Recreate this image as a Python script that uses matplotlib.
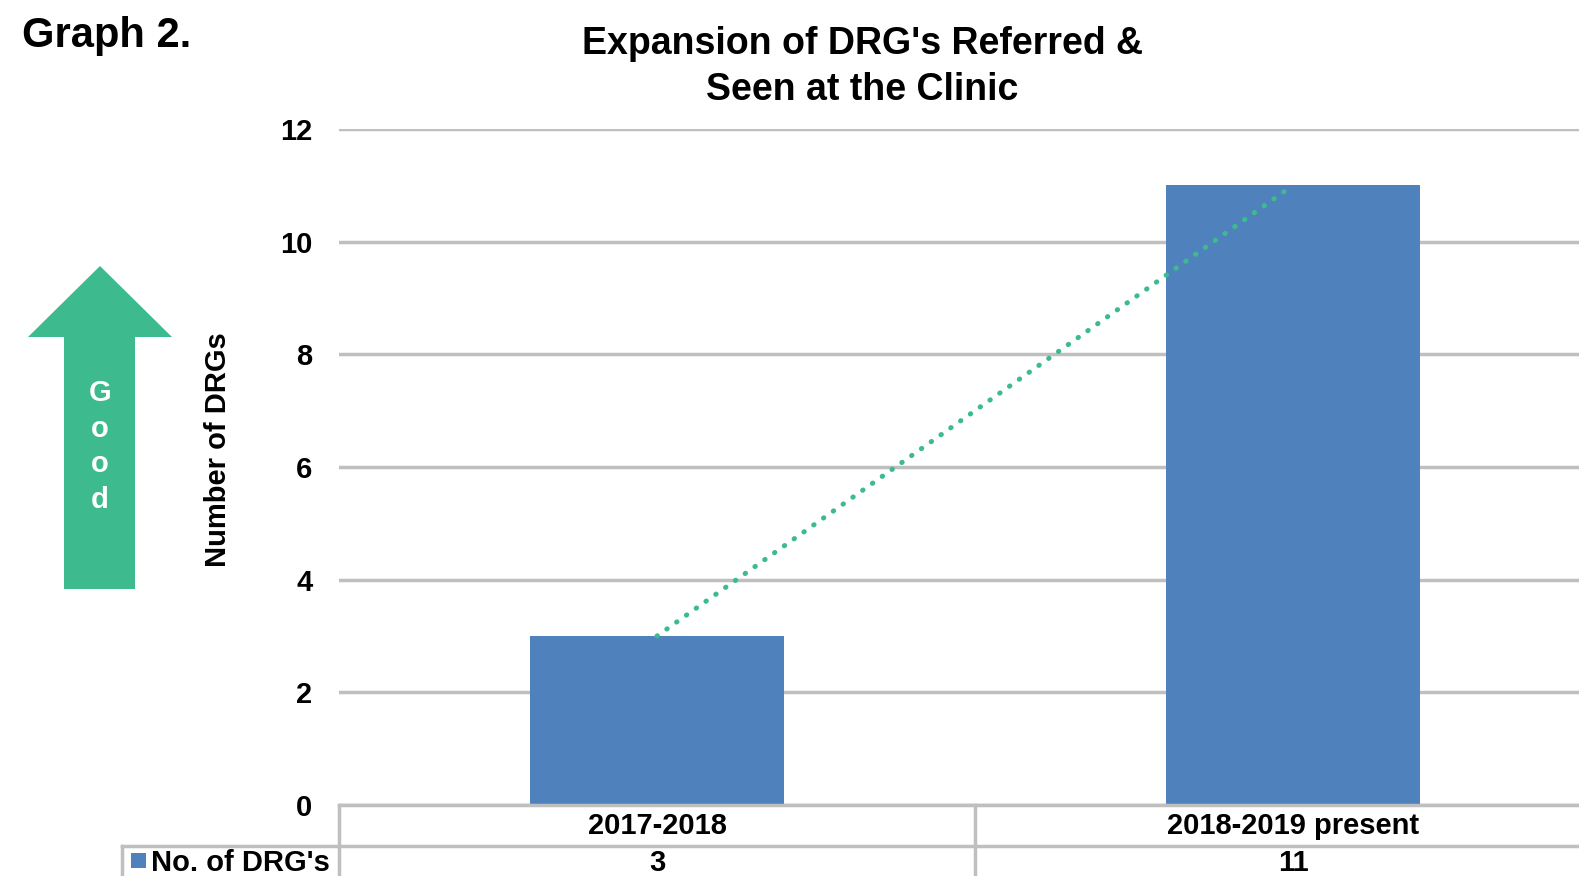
import matplotlib
matplotlib.use("Agg")
import matplotlib.pyplot as plt
import matplotlib.transforms as mtransforms
from matplotlib.patches import Polygon, Rectangle
from matplotlib.lines import Line2D
import numpy as np

# ---- data ----
categories = ["2017-2018", "2018-2019 present"]
values = [3, 11]
series_name = "No. of DRG's"
y_ticks = [0, 2, 4, 6, 8, 10, 12]
title = "Expansion of DRG's Referred &\nSeen at the Clinic"
y_label = "Number of DRGs"
graph_label = "Graph 2."
arrow_text = "Good"

# ---- style ----
W, H = 1579, 876
BAR = "#4F81BD"
GREEN = "#3DBB8F"
GRID = "#BFBFBF"
FONT = "Liberation Sans"
FS = 21
plt.rcParams["font.family"] = [FONT, "DejaVu Sans"]
plt.rcParams["font.weight"] = "bold"

fig = plt.figure(figsize=(W / 100, H / 100), dpi=100)

def fx(px):
    return px / W

def fy(py):
    return 1 - py / H

# axes: left 339px, y0 at 805px, y12 at 129px, category width 636px
ax_left, ax_right = 339, 339 + 2 * 636
ax_top, ax_bottom = 129, 805
ax = fig.add_axes([fx(ax_left), fy(ax_bottom), (ax_right - ax_left) / W, (ax_bottom - ax_top) / H])

x = np.arange(len(categories))
ax.bar(x, values, width=0.4, color=BAR, zorder=3)

# linear trendline
coef = np.polyfit(x, values, 1)
xt = np.array([x[0], x[-1]])
ax.plot(xt, np.polyval(coef, xt), color=GREEN, lw=3.6, linestyle=(0, (0.1, 2.3)),
        dash_capstyle="round", zorder=4)

ax.set_xlim(-0.5, len(categories) - 0.5)
ax.set_ylim(0, 12)
ax.set_yticks(y_ticks)
ax.set_yticklabels([str(t) for t in y_ticks], fontsize=FS, fontweight="bold")
ax.set_xticks([])
ax.tick_params(axis="y", length=0, pad=19)
for s in ax.spines.values():
    s.set_visible(False)
ax.grid(axis="y", color=GRID, lw=2.5, zorder=0)
ax.set_axisbelow(True)

# ---- data table ----
row1_top, row2_top = 805, 846
tbl_left = 122
lw_t = 2.5
lines = [
    ([fx(ax_left), 1.0], [fy(row1_top), fy(row1_top)]),
    ([fx(tbl_left), 1.0], [fy(row2_top), fy(row2_top)]),
    ([fx(ax_left), fx(ax_left)], [fy(row1_top), 0]),
    ([fx(tbl_left), fx(tbl_left)], [fy(row2_top), 0]),
    ([fx(ax_left + 636), fx(ax_left + 636)], [fy(row1_top), 0]),
]
for xs, ys in lines:
    fig.add_artist(Line2D(xs, ys, color=GRID, lw=lw_t, transform=fig.transFigure))

trans = mtransforms.blended_transform_factory(ax.transData, fig.transFigure)
for xi, cat, v in zip(x, categories, values):
    fig.text(xi, fy(826), cat, transform=trans, ha="center", va="center",
             fontsize=FS, fontweight="bold")
    fig.text(xi, fy(863), str(v), transform=trans, ha="center", va="center",
             fontsize=FS, fontweight="bold")
fig.add_artist(Rectangle((fx(131), fy(868)), 15 / W, 15 / H, transform=fig.transFigure,
                         facecolor=BAR, edgecolor="none"))
fig.text(fx(151), fy(863), series_name, ha="left", va="center", fontsize=FS, fontweight="bold")

# ---- titles & labels ----
fig.text(fx(862), fy(67), title, ha="center", va="center", fontsize=27,
         fontweight="bold", linespacing=1.33)
fig.text(fx(22), fy(36), graph_label, ha="left", va="center", fontsize=30, fontweight="bold")
fig.text(fx(218), fy(450), y_label, ha="center", va="center", rotation=90,
         fontsize=FS, fontweight="bold")

# ---- "Good" arrow ----
pts_px = [(64, 589), (135, 589), (135, 337), (172, 337), (100, 266), (28, 337), (64, 337)]
fig.add_artist(Polygon([(fx(a), fy(b)) for a, b in pts_px], closed=True,
                       transform=fig.transFigure, facecolor=GREEN, edgecolor="none"))
for ch, py in zip(arrow_text, [393, 429, 464, 500]):
    fig.text(fx(100), fy(py), ch, ha="center", va="center", color="white",
             fontsize=FS, fontweight="bold")

fig.savefig("out.png", dpi=100)
